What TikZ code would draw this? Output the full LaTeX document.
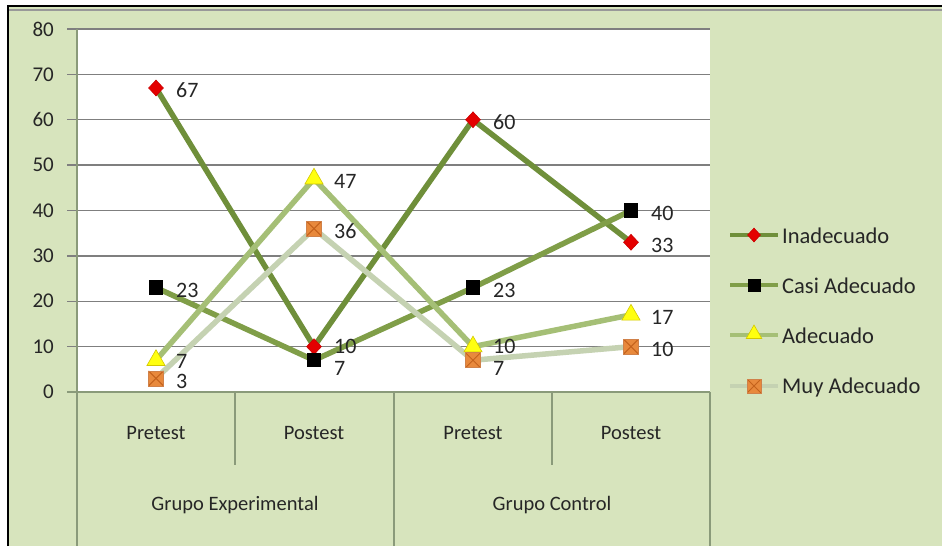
\documentclass[tikz,border=0pt]{standalone}
\usepackage{fontspec}
\setmainfont{Carlito}
\usetikzlibrary{shapes.geometric}
\definecolor{bgc}{HTML}{D7E4BD}
\definecolor{gridc}{HTML}{7F7F7F}
\definecolor{axc}{HTML}{8A9A7A}
\definecolor{inac}{HTML}{6F8F3A}
\definecolor{casic}{HTML}{809E48}
\definecolor{adec}{HTML}{A5BF76}
\definecolor{muyc}{HTML}{C5D2B2}
\definecolor{redm}{HTML}{E40000}
\definecolor{yelm}{HTML}{FFFF10}
\definecolor{orm}{HTML}{E8893C}
\definecolor{orx}{HTML}{C4621C}
\definecolor{txtc}{HTML}{262626}
\tikzset{
  ylbl/.style={anchor=east,inner sep=0pt,text=txtc,font=\fontsize{21}{24}\selectfont},
  catlbl/.style={inner sep=0pt,text=txtc,font=\fontsize{20.5}{24}\selectfont},
  dlbl/.style={anchor=west,inner sep=0pt,text=txtc,font=\fontsize{22}{24}\selectfont},
  leglbl/.style={anchor=west,inner sep=0pt,text=txtc,font=\fontsize{22.5}{24}\selectfont},
  inaline/.style={draw=inac,line width=5.5pt,line join=round},
  casiline/.style={draw=casic,line width=5.5pt,line join=round},
  adeline/.style={draw=adec,line width=5.5pt,line join=round},
  muyline/.style={draw=muyc,line width=5.5pt,line join=round},
  inamark/.style={diamond,fill=redm,draw=red!80!black,line width=0.6pt,minimum width=15pt,minimum height=16pt,inner sep=0pt},
  casimark/.style={rectangle,fill=black,minimum size=14.5pt,inner sep=0pt},
  ademark/.style={regular polygon,regular polygon sides=3,fill=yelm,draw=yellow!60!olive,line width=0.6pt,minimum size=21pt,inner sep=0pt},
  muymark/.style={rectangle,fill=orm,draw=orx!80,line width=0.6pt,minimum size=15pt,inner sep=0pt,
    path picture={\draw[orx,line width=1pt] (path picture bounding box.north west) -- (path picture bounding box.south east)
      (path picture bounding box.north east) -- (path picture bounding box.south west);}},
}
\begin{document}
\begin{tikzpicture}[x=1pt,y=-1pt]
\useasboundingbox (0,0) rectangle (942,546);
\fill[white] (0,0) rectangle (942,546);
\fill[bgc] (8,6) rectangle (942,546);
\draw[gray!80,line width=1.5pt] (9,10) -- (942,10);
\draw[black,line width=2pt] (8,546) -- (8,6) -- (942,6);
% plot area
\fill[white] (77,29) rectangle (710,392);
\foreach \v in {10,20,...,80}{
  \pgfmathsetmacro{\yy}{392-\v*4.5375}
  \draw[gridc,line width=1.4pt] (67,\yy) -- (710,\yy);
}
\foreach \v in {0,10,...,80}{
  \pgfmathsetmacro{\yy}{392-\v*4.5375}
  \node[ylbl] (y\v) at (54,\yy) {\v};
}
% axes
\draw[axc,line width=1.4pt] (67,392) -- (710,392);
\draw[axc,line width=1.4pt] (77,29) -- (77,546);
\draw[axc,line width=1.2pt] (235,392) -- (235,465);
\draw[axc,line width=1.2pt] (552,392) -- (552,465);
\draw[axc,line width=1.2pt] (394,392) -- (394,546);
\draw[axc,line width=1.2pt] (710,392) -- (710,546);
% category labels
\node[catlbl] (c1) at (156,433) {Pretest};
\node[catlbl] (c2) at (314,433) {Postest};
\node[catlbl] (c3) at (473,433) {Pretest};
\node[catlbl] (c4) at (631,433) {Postest};
\node[catlbl] (g1) at (235,505) {Grupo Experimental};
\node[catlbl] (g2) at (552,505) {Grupo Control};
% data coordinates
\coordinate (i1) at (156,87.99);
\coordinate (i2) at (314,346.63);
\coordinate (i3) at (473,119.75);
\coordinate (i4) at (631,242.26);
\coordinate (k1) at (156,287.64);
\coordinate (k2) at (314,360.24);
\coordinate (k3) at (473,287.64);
\coordinate (k4) at (631,210.5);
\coordinate (a1) at (156,360.24);
\coordinate (a2) at (314,178.74);
\coordinate (a3) at (473,346.63);
\coordinate (a4) at (631,314.86);
\coordinate (m1) at (156,378.39);
\coordinate (m2) at (314,228.65);
\coordinate (m3) at (473,360.24);
\coordinate (m4) at (631,346.63);
% lines
\draw[inaline] (i1) -- (i2) -- (i3) -- (i4);
\draw[casiline] (k1) -- (k2) -- (k3) -- (k4);
\draw[adeline] (a1) -- (a2) -- (a3) -- (a4);
\draw[muyline] (m1) -- (m2) -- (m3) -- (m4);
% markers
\foreach \n in {1,2,3,4}{
  \node[inamark] (I\n) at (i\n) {};
  \node[casimark] (K\n) at (k\n) {};
  \node[ademark] (A\n) at (a\n) {};
  \node[muymark] (M\n) at (m\n) {};
}
% data labels
\node[dlbl] (li1) at (176,90) {67};
\node[dlbl] (li2) at (334,346) {10};
\node[dlbl] (li3) at (493,122) {60};
\node[dlbl] (li4) at (651,245) {33};
\node[dlbl] (lk1) at (176,290) {23};
\node[dlbl] (lk2) at (334,368) {7};
\node[dlbl] (lk3) at (493,290) {23};
\node[dlbl] (lk4) at (651,213) {40};
\node[dlbl] (la1) at (176,361) {7};
\node[dlbl] (la2) at (334,181) {47};
\node[dlbl] (la3) at (493,346) {10};
\node[dlbl] (la4) at (651,317) {17};
\node[dlbl] (lm1) at (176,381) {3};
\node[dlbl] (lm2) at (334,231) {36};
\node[dlbl] (lm3) at (493,368) {7};
\node[dlbl] (lm4) at (651,349) {10};
% legend
\coordinate (e1a) at (730,235); \coordinate (e1b) at (778,235);
\coordinate (e2a) at (730,285); \coordinate (e2b) at (778,285);
\coordinate (e3a) at (730,335); \coordinate (e3b) at (778,335);
\coordinate (e4a) at (730,386); \coordinate (e4b) at (778,386);
\draw[inaline,line width=3.5pt] (e1a) -- (e1b);
\draw[casiline,line width=3.5pt] (e2a) -- (e2b);
\draw[adeline,line width=3.5pt] (e3a) -- (e3b);
\draw[muyline,line width=3.5pt] (e4a) -- (e4b);
\node[inamark,minimum width=13pt,minimum height=14pt] (E1) at (754,235) {};
\node[casimark,minimum size=13pt] (E2) at (754,285) {};
\node[ademark,minimum size=18pt] (E3) at (754,334) {};
\node[muymark,minimum size=14pt] (E4) at (754,386) {};
\node[leglbl] (t1) at (782,236) {Inadecuado};
\node[leglbl] (t2) at (782,286) {Casi Adecuado};
\node[leglbl] (t3) at (782,336) {Adecuado};
\node[leglbl] (t4) at (782,387) {Muy Adecuado};
\end{tikzpicture}
\end{document}
